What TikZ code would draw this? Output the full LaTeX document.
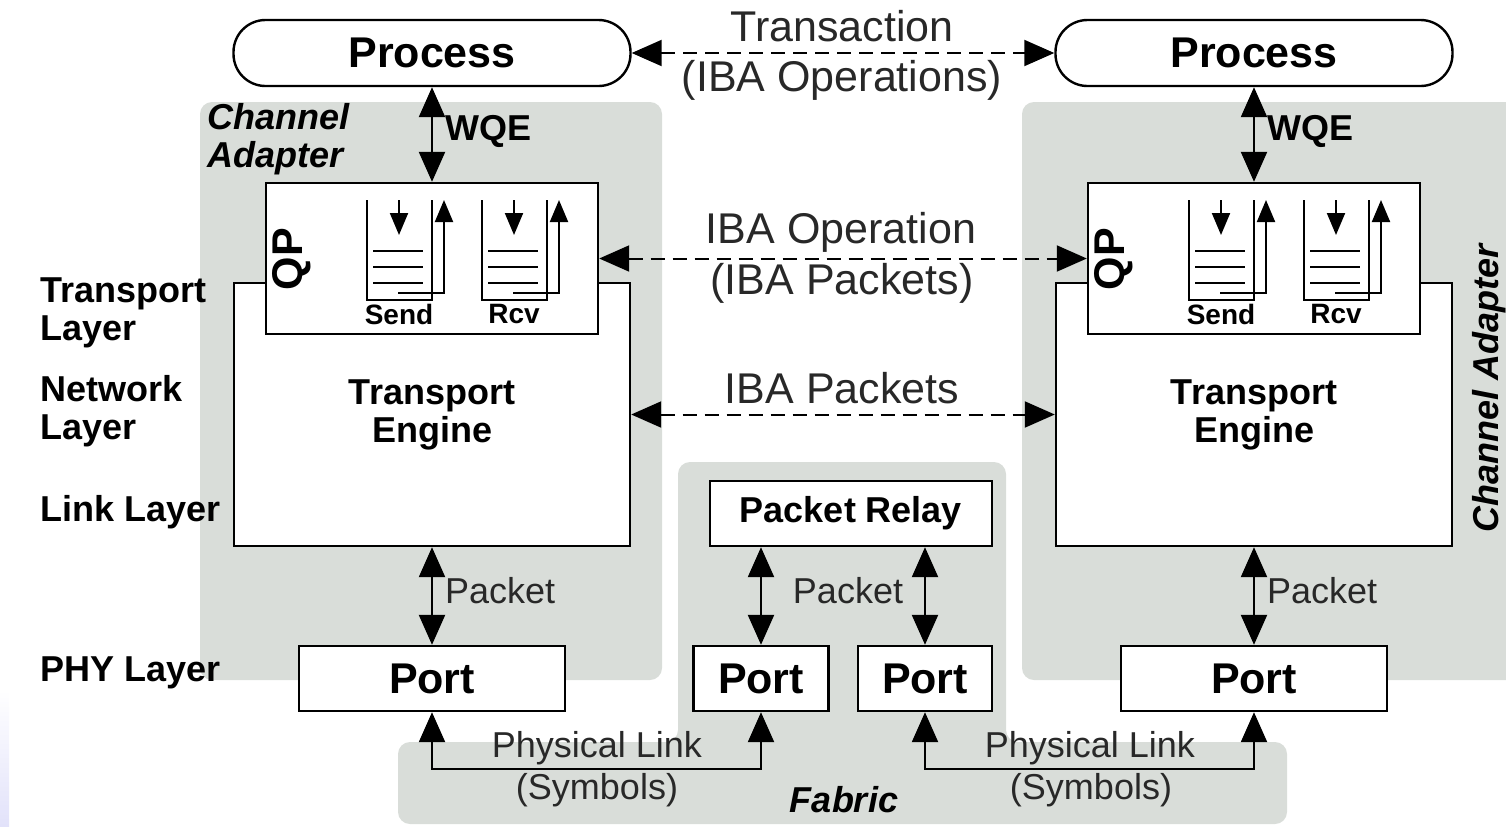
\documentclass[tikz,border=0pt]{standalone}
\usepackage{fontspec}
\setmainfont{Liberation Sans}
\usetikzlibrary{arrows.meta, positioning}
\definecolor{regiongray}{RGB}{217,221,217}
\definecolor{edgeblue}{RGB}{226,226,250}
\definecolor{textgray}{RGB}{40,40,40}
\newcommand{\bigfont}{\fontsize{21.5}{24}\selectfont}
\newcommand{\midfont}{\fontsize{18}{19}\selectfont}
\newcommand{\smallfont}{\fontsize{14}{16}\selectfont}
\tikzset{
  bigtip/.tip={Triangle[length=15pt, width=13pt]},
  smalltip/.tip={Triangle[length=11pt, width=9pt]},
  box/.style={draw, fill=white, line width=1.2pt, inner sep=0pt},
  portbox/.style={box, minimum height=32.5pt, font=\bigfont\bfseries},
  dbl/.style={bigtip-bigtip, line width=1.2pt},
  dashdbl/.style={dbl, line width=1pt, dash pattern=on 7pt off 4pt},
  region/.style={fill=regiongray, rounded corners=6pt},
  queue/.style={line width=1pt},
}
\begin{document}
\begin{tikzpicture}[x=0.5pt, y=-0.5pt]
  \useasboundingbox (0,0) rectangle (1506,826);

  % grey areas
  \shade[top color=white, bottom color=edgeblue] (0,690) rectangle (9,826);
  \fill[region] (200,102) rectangle (662,680);
  \fill[region] (1022,102) rectangle (1520,680);
  \fill[region] (678,462) -- (1006,462) -- (1006,742) -- (1287,742) -- (1287,824)
    -- (398,824) -- (398,742) -- (678,742) -- cycle;

  % the two end nodes
  \foreach \s/\dx in {l/0, r/822} {
    \node[box, minimum width=198pt, minimum height=131.5pt, align=center,
      font=\midfont\bfseries] (\s-eng) at ({432+\dx},414.5) {Transport\\Engine};
    \node[box, minimum width=166pt, minimum height=75.5pt] (\s-qp) at ({432+\dx},258.5) {};
    \node[rotate=90, font=\bigfont\bfseries] (\s-qplbl) at ({292+\dx},259) {QP};
    \foreach \q/\qname in {0/Send, 115/Rcv} {
      \draw[queue] ({367+\dx+\q},200) -- ({367+\dx+\q},300) -- ({432+\dx+\q},300) -- ({432+\dx+\q},200);
      \foreach \y in {251,267,283}
        \draw[queue] ({373+\dx+\q},\y) -- ({423+\dx+\q},\y);
      \draw[queue, -smalltip] ({399+\dx+\q},200) -- ({399+\dx+\q},235);
      \draw[queue, -smalltip] ({398+\dx+\q},293) -| ({444+\dx+\q},200);
      \node[font=\smallfont\bfseries] at ({399+\dx+\q},314) {\qname};
    }
    \node[box, rounded corners=16pt, minimum width=198.5pt, minimum height=33pt,
      font=\bigfont\bfseries] (\s-proc) at ({432+\dx},53) {Process};
    \node[portbox, minimum width=133pt] (\s-port) at ({432+\dx},678.5) {Port};

    \draw[dbl] (\s-proc.south) -- (\s-qp.north);
    \node[anchor=west, font=\midfont\bfseries] (\s-wqe) at ({438+\dx},131) {WQE};
    \draw[dbl] (\s-eng.south) -- (\s-port.north);
    \node[anchor=west, font=\midfont, text=textgray] (\s-pkt) at ({438+\dx},591) {Packet};
  }

  % fabric
  \node[box, minimum width=141pt, minimum height=32.5pt, font=\midfont\bfseries] (relay) at (851,513.5) {Packet Relay};
  \node[portbox, minimum width=67.5pt] (fport-a) at (761,678.5) {Port};
  \node[portbox, minimum width=67pt] (fport-b) at (925,678.5) {Port};
  \draw[dbl] (relay.south -| fport-a) -- (fport-a.north);
  \draw[dbl] (relay.south -| fport-b) -- (fport-b.north);
  \node[font=\midfont, text=textgray] (relay-pkt) at (848,591) {Packet};

  % physical links
  \draw[dbl] (l-port.south) -- ++(0,57) -| (fport-a.south);
  \draw[dbl] (fport-b.south) -- ++(0,57) -| (r-port.south);
  \node[font=\midfont, text=textgray] (plink-a) at (597,748) {Physical Link};
  \node[font=\midfont, text=textgray] (sym-a) at (597,790) {(Symbols)};
  \node[font=\midfont, text=textgray] (plink-b) at (1090,748) {Physical Link};
  \node[font=\midfont, text=textgray] (sym-b) at (1091,790) {(Symbols)};
  \node[font=\midfont\bfseries\itshape] (fabric) at (844,800) {Fabric};

  % peer to peer
  \draw[dashdbl] (l-proc.east) -- (r-proc.west);
  \node[font=\bigfont, text=textgray] (trans) at (842,26) {Transaction};
  \node[font=\bigfont, text=textgray] (trans-ops) at (842,80) {(IBA Operations)};
  \draw[dashdbl] (l-qp.east) -- (r-qp.west);
  \node[font=\bigfont, text=textgray] (op) at (841,232) {IBA Operation};
  \node[font=\bigfont, text=textgray] (op-pkts) at (842,283) {(IBA Packets)};
  \draw[dashdbl] (l-eng.east) -- (r-eng.west);
  \node[font=\bigfont, text=textgray] (pkts) at (842,388) {IBA Packets};

  % layer names
  \node[anchor=west, align=left, font=\midfont\bfseries] (lay-tr) at (33,313) {Transport\\Layer};
  \node[anchor=west, align=left, font=\midfont\bfseries] (lay-nw) at (33,411) {Network\\Layer};
  \node[anchor=west, font=\midfont\bfseries] (lay-ln) at (33,512) {Link Layer};
  \node[anchor=west, font=\midfont\bfseries] (lay-phy) at (33,673) {PHY Layer};
  \node[anchor=west, align=left, font=\midfont\bfseries\itshape] (ca-l) at (200,139) {Channel\\Adapter};
  \node[rotate=90, font=\midfont\bfseries\itshape] (ca-r) at (1489,388) {Channel Adapter};
\end{tikzpicture}
\end{document}
